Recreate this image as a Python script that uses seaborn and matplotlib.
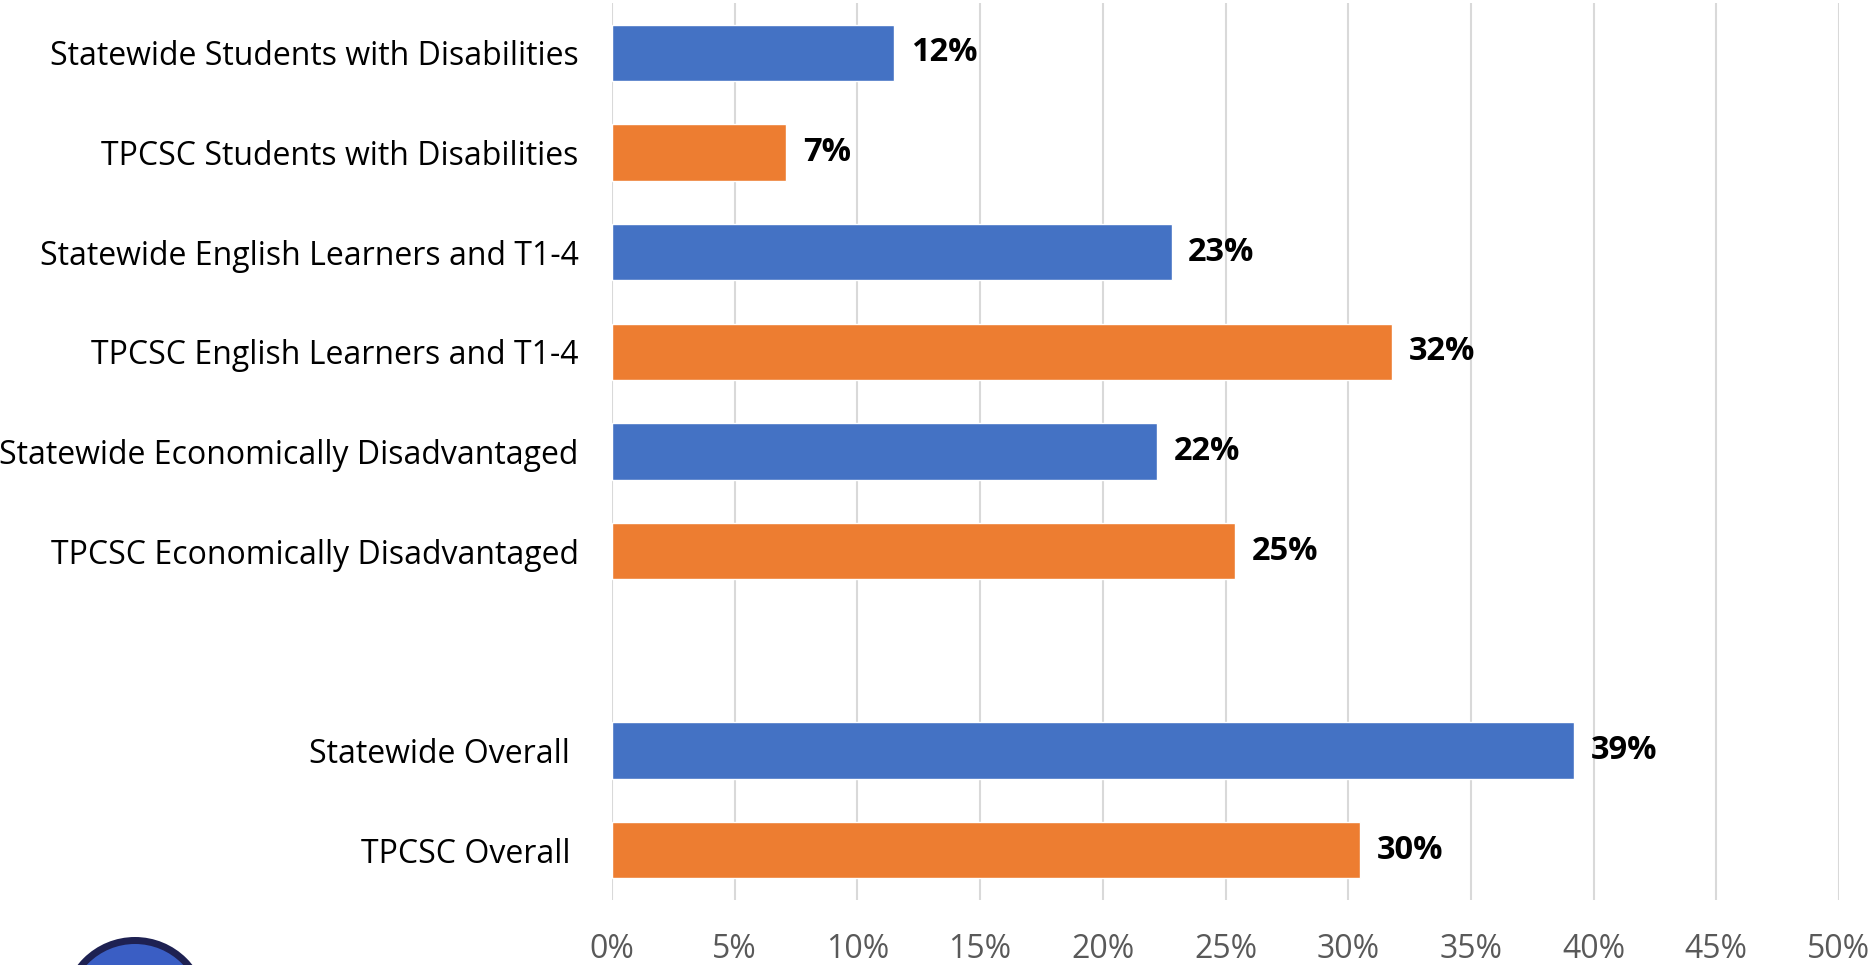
import pandas as pd
import matplotlib.pyplot as plt
from matplotlib.patches import Circle
from matplotlib.ticker import PercentFormatter
import seaborn as sns

# Chart data
categories = ['Statewide Students with Disabilities', 'TPCSC Students with Disabilities',
              'Statewide English Learners and T1-4', 'TPCSC English Learners and T1-4',
              'Statewide Economically Disadvantaged', 'TPCSC Economically Disadvantaged',
              'Statewide Overall ', 'TPCSC Overall ']
groups = ['Statewide', 'TPCSC', 'Statewide', 'TPCSC', 'Statewide', 'TPCSC', 'Statewide', 'TPCSC']
values = [0.115, 0.071, 0.228, 0.318, 0.222, 0.254, 0.392, 0.305]
x_ticks = [0, 0.05, 0.10, 0.15, 0.20, 0.25, 0.30, 0.35, 0.40, 0.45, 0.50]

# empty slot between the subgroups and the overall rows
order = categories[:6] + [''] + categories[6:]

df = pd.DataFrame({'category': categories, 'group': groups, 'value': values})

sns.set_theme(style='white')
plt.rcParams['font.family'] = ['Open Sans', 'DejaVu Sans']

fig = plt.figure(figsize=(18.74, 9.65), dpi=100)
ax = fig.add_axes([0.3266, 0.0674, 0.6547, 0.9295])

sns.barplot(data=df, y='category', x='value', hue='group', order=order,
            palette={'Statewide': '#4472C4', 'TPCSC': '#ED7D31'},
            dodge=False, width=0.565, saturation=1, legend=False, ax=ax)

ax.set_xlim(0, 0.5)
ax.set_xticks(x_ticks)
ax.xaxis.set_major_formatter(PercentFormatter(1.0, decimals=0))
ax.grid(axis='x', color='#D9D9D9', linewidth=1.5)
ax.set_axisbelow(True)
sns.despine(ax=ax, left=True, bottom=True)
ax.set_xlabel('')
ax.set_ylabel('')
ax.tick_params(axis='y', length=0, pad=24, labelsize=23, labelcolor='black')
ax.tick_params(axis='x', length=0, pad=24, labelsize=23, labelcolor='#595959')

# value labels
for container in ax.containers:
    ax.bar_label(container, fmt=lambda v: f'{v:.0%}', padding=12,
                 fontsize=23.5, fontweight='bold', color='black')

# logo peeking in at the bottom left
fig.add_artist(Circle((135, -45), 73, transform=None, facecolor='#1E2152', edgecolor='none'))
fig.add_artist(Circle((135, -45), 66, transform=None, facecolor='#3A5EC4', edgecolor='none'))

fig.savefig('out.png', dpi=100)
